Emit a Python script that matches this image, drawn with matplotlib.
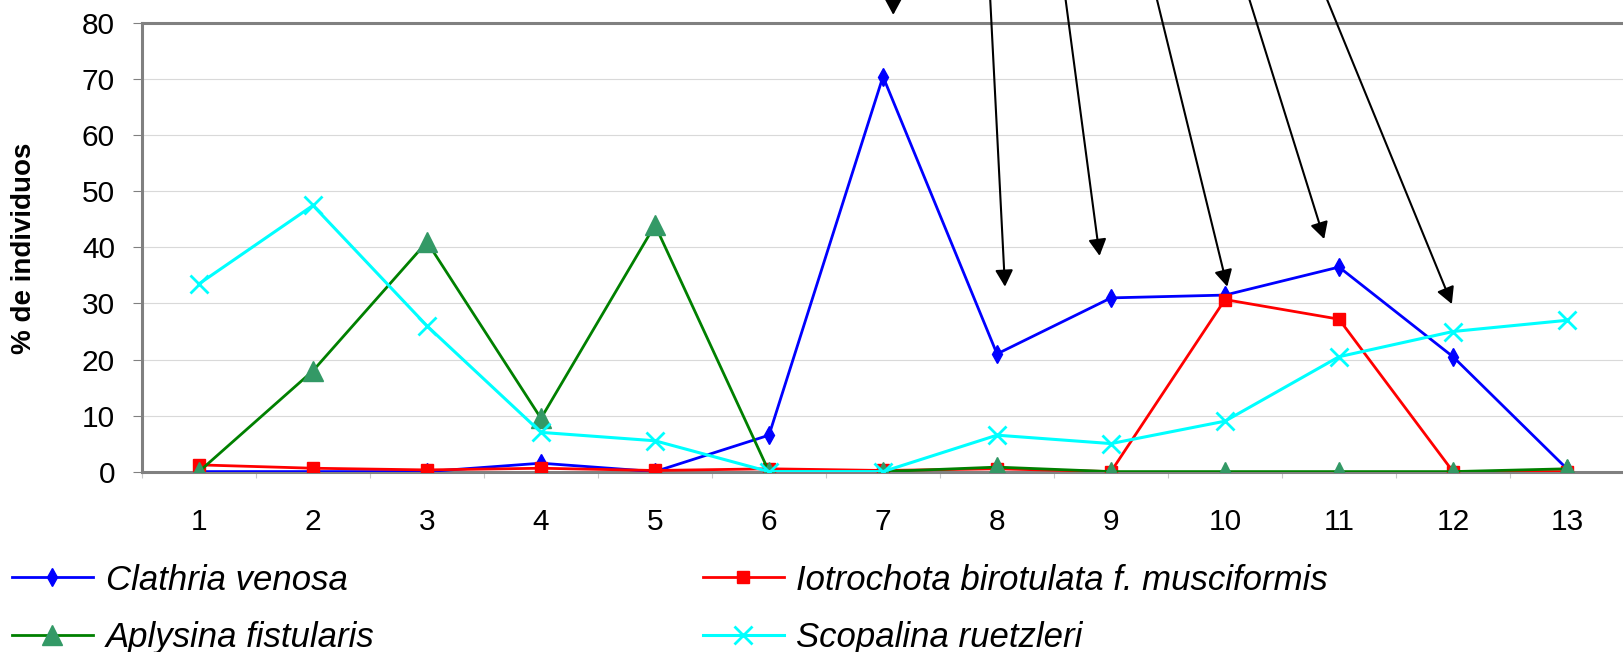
import matplotlib
matplotlib.use("Agg")
import matplotlib.pyplot as plt
import numpy as np

# ---------- データ ----------
sites = list(range(1, 14))
clathria = [0, 0, 0, 1.5, 0, 6.5, 70.5, 21, 31, 31.5, 36.5, 20.5, 0.5]
iotrochota = [1.2, 0.6, 0.3, 0.6, 0.2, 0.5, 0.2, 0.5, 0, 30.7, 27.2, 0, 0]
aplysina = [0, 18, 41, 9.5, 44, 0, 0, 0.8, 0, 0, 0, 0, 0.5]
scopalina = [33.5, 47.5, 26, 7, 5.5, 0, 0, 6.5, 5, 9, 20.5, 25, 27]

names = ["Clathria venosa", "Iotrochota birotulata f. musciformis",
         "Aplysina fistularis", "Scopalina ruetzleri"]

# 矢印 (先端, 根元) — 根元は図の上端の外
arrow_tips = [(7.09, 81.5), (8.07, 33.0), (8.90, 38.5),
              (10.02, 33.0), (10.87, 41.5), (11.99, 29.9)]
arrow_tails = [(7.09, 84.5), (7.94, 84.5), (8.60, 84.5),
               (9.40, 84.5), (10.21, 84.5), (10.89, 84.5)]

plt.rcParams["font.family"] = ["Liberation Sans", "DejaVu Sans"]

W, H = 1624, 652
fig = plt.figure(figsize=(W / 100, H / 100), dpi=100)
ax = fig.add_axes([142 / W, 1 - 471.6 / H, (W - 142) / W, (471.6 - 23.3) / H])

x = np.array(sites)
l1, = ax.plot(x, clathria, color="#0000FF", lw=2.0, marker="d", ms=9,
              mfc="#0000FF", mec="#0000FF", zorder=3)
l2, = ax.plot(x, iotrochota, color="#FF0000", lw=2.0, marker="s", ms=8.5,
              mfc="#FF0000", mec="#FF0000", zorder=4)
l3, = ax.plot(x, aplysina, color="#008000", lw=2.0, marker="^", ms=14,
              mfc="#339966", mec="#339966", zorder=5)
l4, = ax.plot(x, scopalina, color="#00FFFF", lw=2.2, marker="x", ms=13,
              mew=2, mec="#00FFFF", zorder=6)

ax.set_xlim(0.5, 13.5)
ax.set_ylim(0, 80)
ax.set_yticks(np.arange(0, 81, 10))
ax.set_xticks(sites)
ax.set_xticks(np.arange(0.5, 13.6, 1), minor=True)
ax.grid(axis="y", color="#D9D9D9", lw=0.8, zorder=0)
ax.set_axisbelow(True)

for s in ["left", "top", "bottom"]:
    ax.spines[s].set_color("#808080")
    ax.spines[s].set_linewidth(2.2)
ax.spines["right"].set_visible(False)

ax.tick_params(axis="y", length=6.5, width=0.8, color="#808080", pad=13,
               labelsize=21.5)
ax.tick_params(axis="x", which="major", length=0, pad=26, labelsize=21.5)
ax.tick_params(axis="x", which="minor", length=4.5, width=0.8, color="#C8C8C8")

fig.text(24 / W, 1 - 248 / H, "% de individuos", rotation=90, ha="center",
         va="center", fontsize=20, fontweight="bold")

# 矢印
for tip, tail in zip(arrow_tips, arrow_tails):
    ax.annotate("", xy=tip, xytext=tail, xycoords="data", textcoords="data",
                annotation_clip=False,
                arrowprops=dict(arrowstyle="-|>,head_length=1.0,head_width=0.54",
                                mutation_scale=10, color="black", lw=1.5,
                                shrinkA=0, shrinkB=0))

fig.legend([l1, l3, l2, l4], [names[0], names[2], names[1], names[3]],
           ncol=2, loc="upper left", bbox_to_anchor=(12 / W, 1 - 563.5 / H),
           frameon=False, borderpad=0, borderaxespad=0,
           prop={"family": "Liberation Sans", "style": "italic", "size": 25},
           handlelength=2.33, handletextpad=0.37, columnspacing=9.45,
           labelspacing=0.70)

fig.savefig("out.png", dpi=100)
